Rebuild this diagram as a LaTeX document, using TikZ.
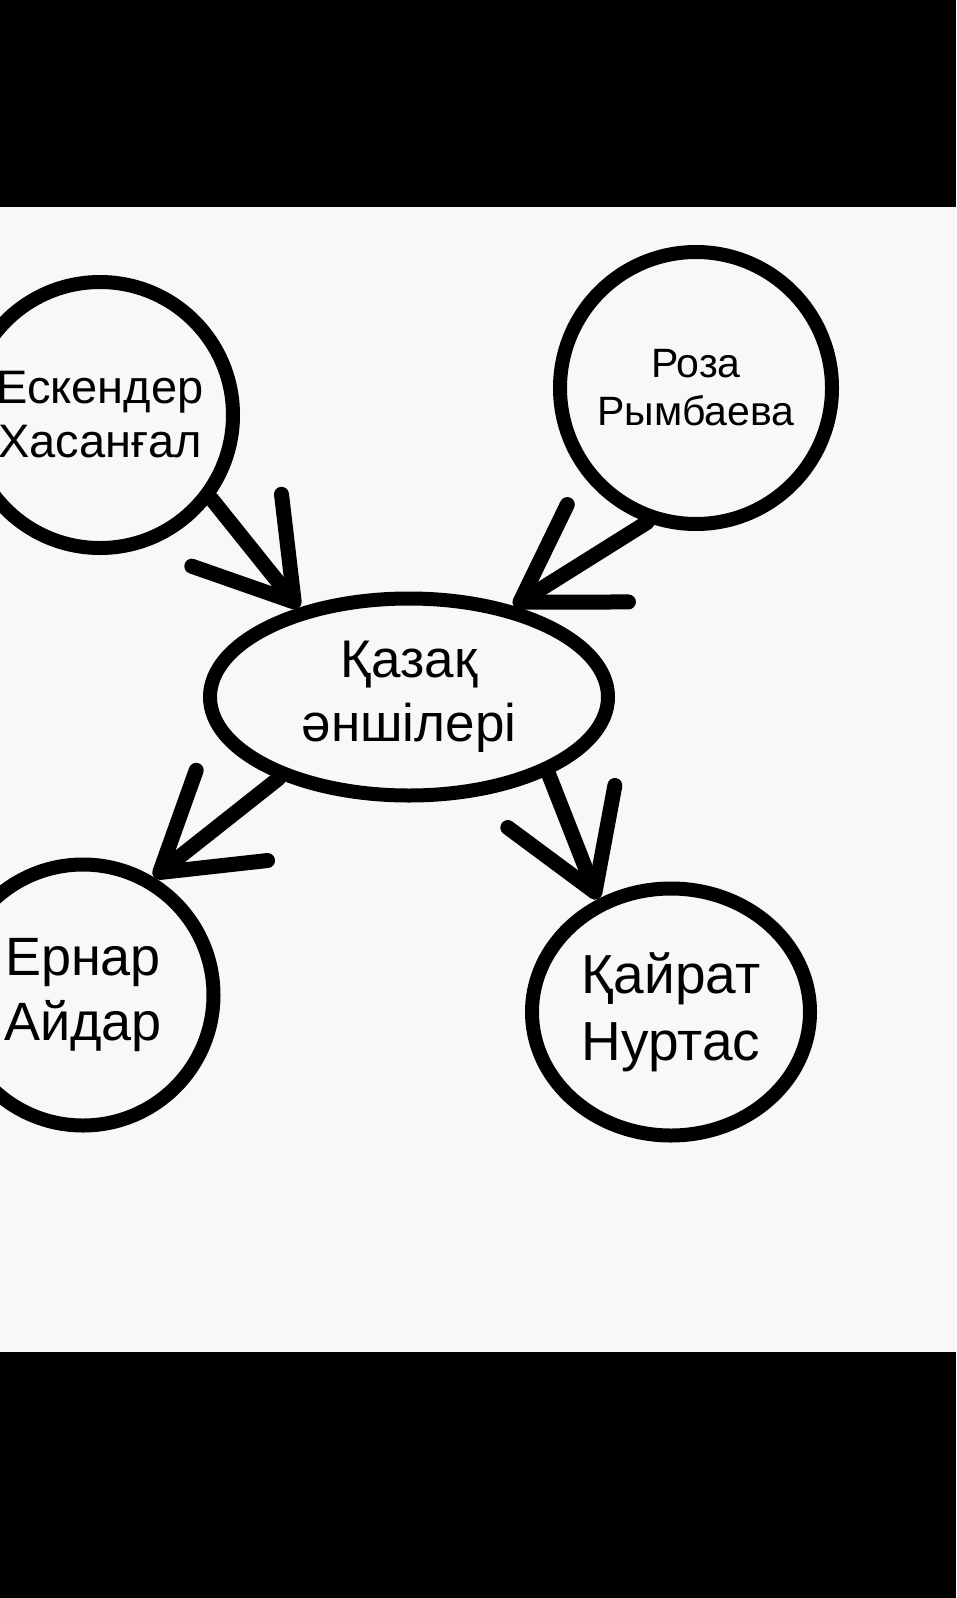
\documentclass[tikz,border=0pt]{standalone}
\usepackage{fontspec}
\setmainfont{Liberation Sans}
\usetikzlibrary{shapes.geometric,arrows.meta}
\definecolor{paper}{RGB}{248,248,248}
\begin{document}
\begin{tikzpicture}[x=1pt, y=-1pt,
  person/.style={draw, circle, line width=14pt, inner sep=0pt, align=center},
  arrowline/.style={line width=15pt, line cap=round, -{Straight Barb[length=92pt,width=115pt,round]}}]
\useasboundingbox (0,0) rectangle (956,1598);
\clip (0,0) rectangle (956,1598);
\fill[black] (0,0) rectangle (956,1598);
\fill[paper] (0,207) rectangle (956,1352);
% the center
\node[person, ellipse, minimum width=398pt, minimum height=197pt, font=\fontsize{53}{64}\selectfont] (kaz) at (409,697) {Қазақ\\әншілері};
% the singers
\node[person, minimum size=266pt, font=\fontsize{47}{54}\selectfont] (esk) at (100,415) {Ескендер\\Хасанғал};
\node[person, minimum size=272pt, font=\fontsize{41}{48}\selectfont] (roza) at (696,388) {Роза\\Рымбаева};
\node[person, minimum size=261pt, font=\fontsize{54}{65}\selectfont] (ernar) at (83,995) {Ернар\\Айдар};
\node[person, ellipse, minimum width=278pt, minimum height=247pt, font=\fontsize{55}{67}\selectfont] (kairat) at (671,1012) {Қайрат\\Нуртас};
\foreach \s/\t in {esk.-37/kaz.141, roza.250/kaz.41, kaz.212/ernar.59, kaz.-29/kairat.123} {\draw[arrowline] (\s)--(\t);}
\end{tikzpicture}
\end{document}
